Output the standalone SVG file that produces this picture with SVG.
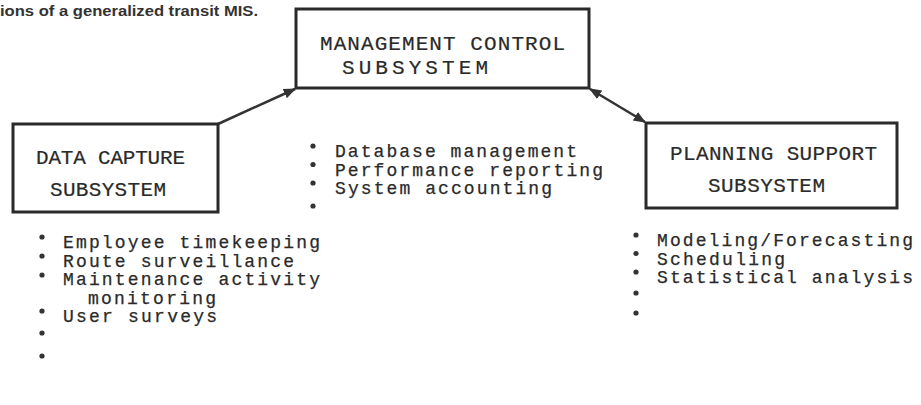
<svg xmlns="http://www.w3.org/2000/svg" width="921" height="405" viewBox="0 0 921 405">
<defs>
<style>
.box{fill:#fff;stroke:#2a2a2a;stroke-width:3}
.lbl{font-family:"Courier New","Nimbus Mono PS","FreeMono","Liberation Mono",monospace;font-size:21px;fill:#2a2a2a;stroke:#2a2a2a;stroke-width:0.2}
.txt{font-family:"Courier New","Nimbus Mono PS","FreeMono","Liberation Mono",monospace;font-size:18px;fill:#2a2a2a;stroke:#2a2a2a;stroke-width:0.25}
.title{font-family:"Liberation Sans",Arial,sans-serif;font-size:14px;font-weight:bold;fill:#333}
.bul{fill:#333}
.conn{stroke:#333;stroke-width:2.5;fill:none}
</style>
<marker id="ah" viewBox="0 0 10 10" refX="9" refY="5" markerWidth="5" markerHeight="5" orient="auto-start-reverse">
<path d="M0,1 L10,5 L0,9 Z" fill="#333"/>
</marker>
</defs>
<rect width="921" height="405" fill="#fff"/>
<text class="title" x="0" y="16" textLength="258" lengthAdjust="spacingAndGlyphs">ions of a generalized transit MIS.</text>

<g id="connectors">
<line class="conn" x1="218" y1="124" x2="295" y2="89" marker-end="url(#ah)"/>
<line class="conn" x1="590" y1="89" x2="645" y2="122" marker-start="url(#ah)" marker-end="url(#ah)"/>
</g>

<g id="management">
<rect class="box" x="296" y="9" width="293" height="79"/>
<text class="lbl" x="320" y="50" textLength="245" lengthAdjust="spacing">MANAGEMENT CONTROL</text>
<text class="lbl" x="342" y="74" textLength="146" lengthAdjust="spacing">SUBSYSTEM</text>
</g>

<g id="datacapture">
<rect class="box" x="13" y="124" width="205" height="88"/>
<text class="lbl" x="36" y="164" textLength="149" lengthAdjust="spacing">DATA CAPTURE</text>
<text class="lbl" x="50" y="196" textLength="116" lengthAdjust="spacing">SUBSYSTEM</text>
</g>

<g id="planning">
<rect class="box" x="646" y="123" width="251" height="85"/>
<text class="lbl" x="670" y="160" textLength="207" lengthAdjust="spacing">PLANNING SUPPORT</text>
<text class="lbl" x="708" y="192" textLength="117" lengthAdjust="spacing">SUBSYSTEM</text>
</g>

<g id="management-list">
<circle class="bul" cx="313" cy="146" r="2.6"/>
<circle class="bul" cx="313" cy="164.5" r="2.6"/>
<circle class="bul" cx="313" cy="183" r="2.6"/>
<circle class="bul" cx="313" cy="206" r="2.6"/>
<text class="txt"><tspan x="335" y="157" textLength="242" lengthAdjust="spacing">Database management</tspan><tspan x="335" y="175.5" textLength="268" lengthAdjust="spacing">Performance reporting</tspan><tspan x="335" y="194" textLength="217" lengthAdjust="spacing">System accounting</tspan></text>
</g>

<g id="datacapture-list">
<circle class="bul" cx="42" cy="237" r="2.6"/>
<circle class="bul" cx="42" cy="256" r="2.6"/>
<circle class="bul" cx="42" cy="275" r="2.6"/>
<circle class="bul" cx="42" cy="311" r="2.6"/>
<circle class="bul" cx="42" cy="333" r="2.6"/>
<circle class="bul" cx="42" cy="356" r="2.6"/>
<text class="txt"><tspan x="63" y="248" textLength="257" lengthAdjust="spacing">Employee timekeeping</tspan><tspan x="63" y="266.5" textLength="231" lengthAdjust="spacing">Route surveillance</tspan><tspan x="63" y="285" textLength="257" lengthAdjust="spacing">Maintenance activity</tspan><tspan x="88" y="303.5" textLength="128" lengthAdjust="spacing">monitoring</tspan><tspan x="63" y="322" textLength="154" lengthAdjust="spacing">User surveys</tspan></text>
</g>

<g id="planning-list">
<circle class="bul" cx="636" cy="235" r="2.6"/>
<circle class="bul" cx="636" cy="253.5" r="2.6"/>
<circle class="bul" cx="636" cy="272" r="2.6"/>
<circle class="bul" cx="636" cy="293" r="2.6"/>
<circle class="bul" cx="636" cy="313" r="2.6"/>
<text class="txt"><tspan x="657" y="246" textLength="256" lengthAdjust="spacing">Modeling/Forecasting</tspan><tspan x="657" y="264.5" textLength="128" lengthAdjust="spacing">Scheduling</tspan><tspan x="657" y="283" textLength="256" lengthAdjust="spacing">Statistical analysis</tspan></text>
</g>
</svg>
